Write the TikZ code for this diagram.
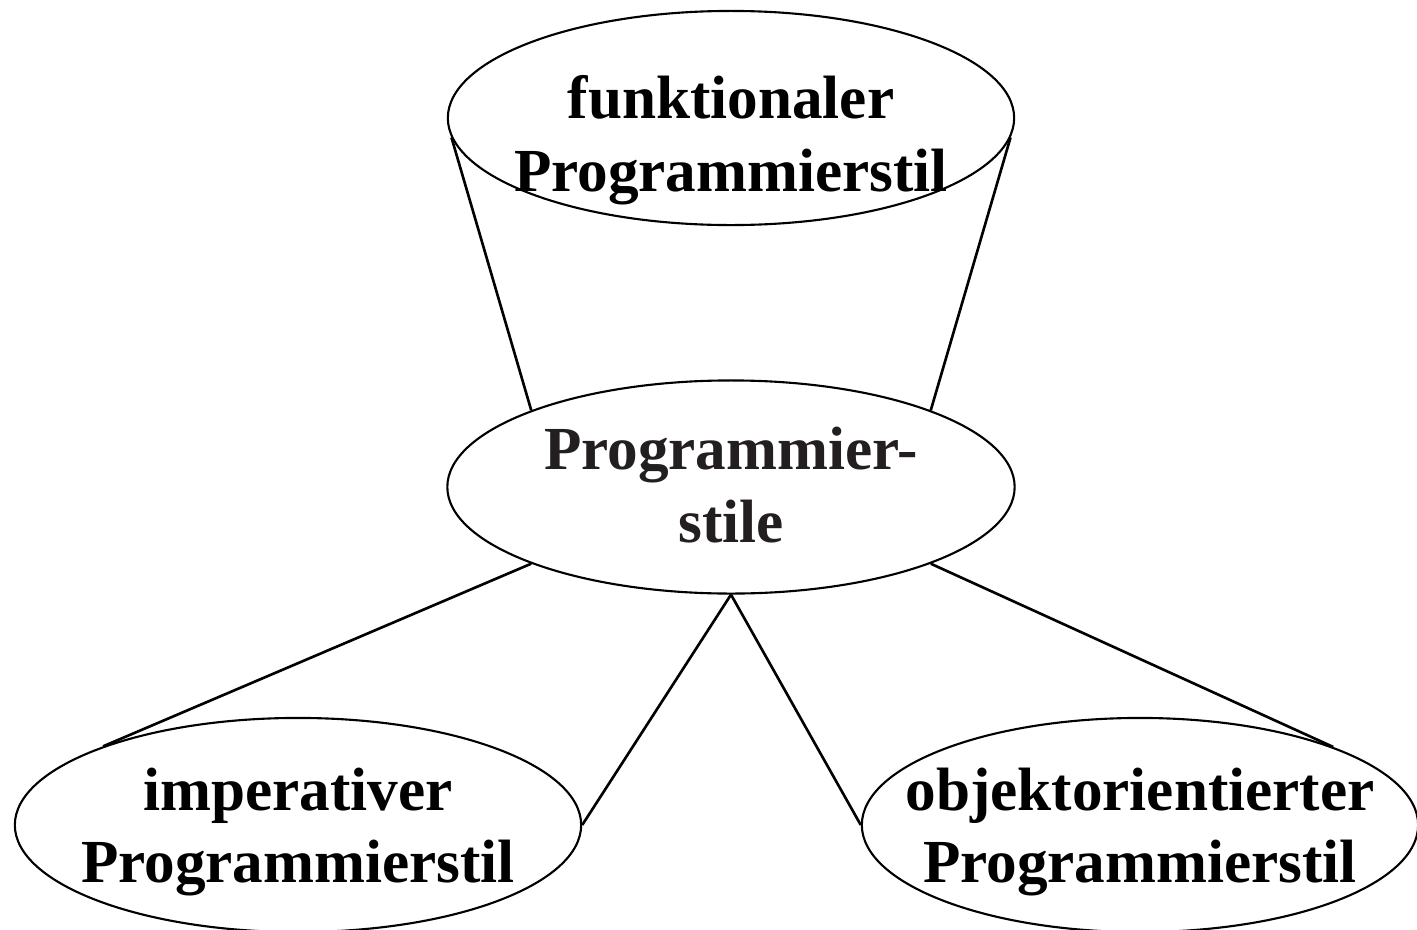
\documentclass[tikz,border=0pt]{standalone}
\usepackage{fontspec}
\setmainfont{Liberation Serif}
\usetikzlibrary{shapes.geometric}
\definecolor{inkgrey}{HTML}{231F20}
\tikzset{
  stilshape/.style={draw, ellipse, line width=0.6pt, inner sep=0pt},
  stiltext/.style={inner sep=0pt, align=center,
    font=\bfseries\fontsize{17.4}{20.6}\selectfont},
  link/.style={line width=0.75pt}
}
\begin{document}
\begin{tikzpicture}[x=0.01cm, y=-0.01cm]
\useasboundingbox (0,0) rectangle (1417,930);
% outlines of the four styles of programming
\node[stilshape, minimum width=5.66cm, minimum height=2.14cm] (fun) at (731,118) {};
\node[stilshape, minimum width=5.67cm, minimum height=2.13cm] (mid) at (731,487) {};
\node[stilshape, minimum width=5.66cm, minimum height=2.14cm] (imp) at (298,825) {};
\node[stilshape, minimum width=5.56cm, minimum height=2.14cm] (obj) at (1140,825) {};
% their captions
\node[stiltext] (funtext) at (731,140) {funktionaler\\Programmierstil};
\node[stiltext, text=inkgrey] (midtext) at (731,485) {Programmier-\\stile};
\node[stiltext] (imptext) at (298,832) {imperativer\\Programmierstil};
\node[stiltext] (objtext) at (1140,832) {objektorientierter\\Programmierstil};
% connectors between the ellipses
\draw[link] (fun.184) -- (mid.159);
\draw[link] (fun.-4.5) -- (mid.21);
\draw[link] (mid.201) -- (imp.158);
\draw[link] (mid.south) -- (imp.east);
\draw[link] (mid.south) -- (obj.west);
\draw[link] (mid.-21) -- (obj.22);
\end{tikzpicture}
\end{document}
